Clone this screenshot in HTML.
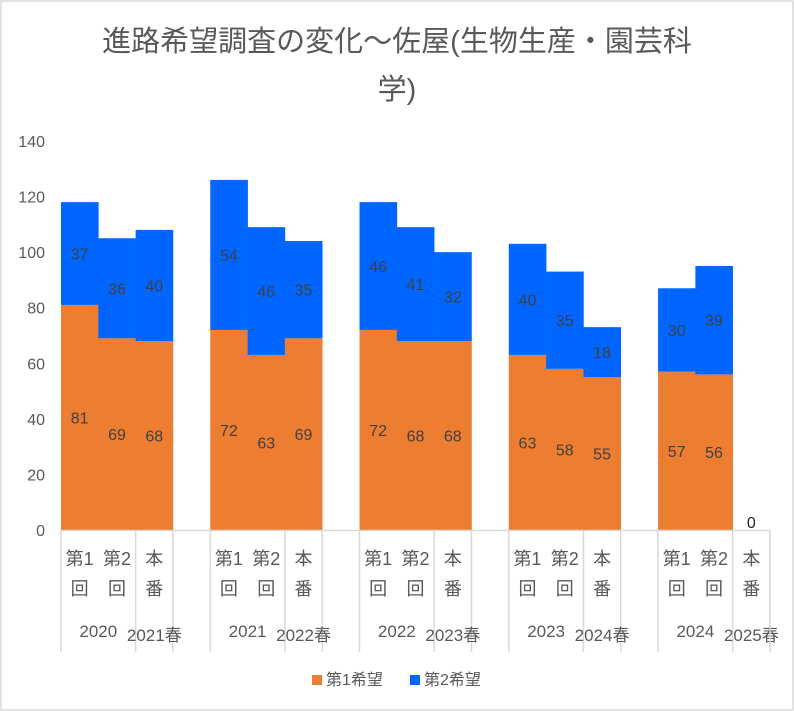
<!DOCTYPE html>
<html><head><meta charset="utf-8"><style>
body{margin:0;background:#fff}
#c{position:relative;width:794px;height:711px;overflow:hidden}
svg text{font-family:"Liberation Sans","Noto Sans CJK JP",sans-serif}
</style></head><body>
<div id="c">
<svg id="s" width="794" height="711">
<rect x="1" y="1" width="792" height="709" fill="#fff" stroke="#d9d9d9" stroke-width="1.5"/>
<text x="397" y="51" text-anchor="middle" font-size="29" fill="#595959">進路希望調査の変化～佐屋(生物生産・園芸科</text>
<text x="397" y="99" text-anchor="middle" font-size="29" fill="#595959">学)</text>
<g id="bars"></g>
<g id="axis"></g>
<g>
<rect x="312" y="675" width="10" height="10" fill="#ED7D31"/>
<text x="326" y="685" font-size="16" fill="#595959">第1希望</text>
<rect x="410" y="675" width="10" height="10" fill="#0066FF"/>
<text x="424" y="685" font-size="16" fill="#595959">第2希望</text>
</g>
</svg></div>
<script>
const years=["2020","2021","2022","2023","2024"];
const springs=["2021春","2022春","2023春","2024春","2025春"];
const rounds=[["第1","回"],["第2","回"],["本","番"]];
const first=[81,69,68,72,63,69,72,68,68,63,58,55,57,56,0];
const second=[37,36,40,54,46,35,46,41,32,40,35,18,30,39,0];
const yTicks=[0,20,40,60,80,100,120,140];

const NS="http://www.w3.org/2000/svg";
const x0=61,x1=770,y0=530,yTop=141,yMax=140,slots=19;
const sw=(x1-x0)/slots;
const y=v=>y0-v/yMax*(y0-yTop);
const slotX=i=>x0+(Math.floor(i/3)*4+i%3)*sw;
function mk(tag,attrs,parent,txt){const e=document.createElementNS(NS,tag);for(const k in attrs)e.setAttribute(k,attrs[k]);if(txt!==undefined)e.textContent=txt;parent.appendChild(e);return e;}
const bars=document.getElementById('bars'),axis=document.getElementById('axis');
yTicks.forEach(t=>{const e=mk('text',{x:45,y:y(t)+6,'text-anchor':'end','font-size':16,fill:'#595959'},axis,String(t));

});
first.forEach((v,i)=>{
 const x=slotX(i),s2=second[i];
 const r1=mk('rect',{x:x,y:y(v),width:sw+0.3,height:y0-y(v),fill:'#ED7D31'},bars);
 
 
 const r2=mk('rect',{x:x,y:y(v+s2),width:sw+0.3,height:y(v)-y(v+s2),fill:'#0066FF'},bars);
 
 
 if(v+s2===0){const t=mk('text',{x:x+sw/2,y:y0-2,'text-anchor':'middle','font-size':16,fill:'#262626'},bars,'0');
  
  }
 else{
  const t1=mk('text',{x:x+sw/2,y:(y(v)+y0)/2+6,'text-anchor':'middle','font-size':16,fill:'#404040'},bars,String(v));
  
  
  const t2=mk('text',{x:x+sw/2,y:(y(v)+y(v+s2))/2+6,'text-anchor':'middle','font-size':16,fill:'#404040'},bars,String(s2));
  
  
 }
 const r=rounds[i%3];
 const l1=mk('text',{x:x+sw/2,y:565,'text-anchor':'middle','font-size':18,fill:'#595959'},axis,r[0]);
 
 
 const l2=mk('text',{x:x+sw/2,y:595,'text-anchor':'middle','font-size':18,fill:'#595959'},axis,r[1]);
 
 
});
mk('line',{x1:x0,x2:x1,y1:y0+0.5,y2:y0+0.5,stroke:'#d9d9d9','stroke-width':1.5},axis);
years.forEach((yr,g)=>{
 const gx=x0+g*4*sw;
 [0,2,3].forEach(k=>{const ln=mk('line',{x1:gx+k*sw,x2:gx+k*sw,y1:y0,y2:652,stroke:'#d9d9d9','stroke-width':1.5},axis);
  
  });
 const t=mk('text',{x:gx+sw,y:637,'text-anchor':'middle','font-size':17,fill:'#595959'},axis,yr);
 
 
 const s=mk('text',{x:gx+2.5*sw,y:641,'text-anchor':'middle','font-size':17,fill:'#595959'},axis,springs[g]);
 
 
});
const le=mk('line',{x1:x1,x2:x1,y1:y0,y2:652,stroke:'#d9d9d9','stroke-width':1.5},axis);


</script>
</body></html>
